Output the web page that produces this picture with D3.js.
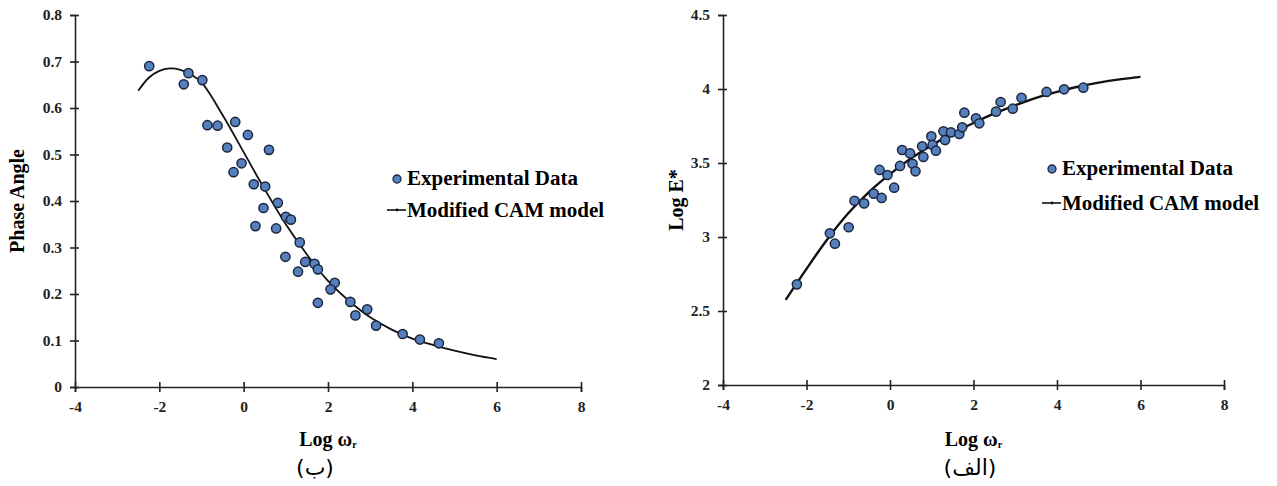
<!DOCTYPE html>
<html>
<head>
<meta charset="utf-8">
<script src="https://cdn.jsdelivr.net/npm/d3@7"></script>
<style>
  body { margin: 0; background: #fff; }
  svg { display: block; }
  .tick text { font-family: "Liberation Serif", serif; font-weight: bold; font-size: 15.5px; fill: #222; }
  .domain, .tick line { stroke: #222; stroke-width: 1.6; }
</style>
</head>
<body>
<div id="chart"></div>
<script>
// --- data ---
const xTicks = [-4, -2, 0, 2, 4, 6, 8];

// left panel (ب): phase angle vs log reduced frequency
const phaseTicks = [0, 0.1, 0.2, 0.3, 0.4, 0.5, 0.6, 0.7, 0.8];
const phaseExpX = [-2.24, -1.42, -1.31, -0.98, -0.86, -0.62, -0.20, -0.39, 0.10, -0.05, -0.24, 0.60, 0.24, 0.51,
  0.81, 0.47, 1.00, 1.12, 0.28, 0.77, 1.33, 0.99, 1.46, 1.29, 1.68, 1.76, 1.76, 2.16, 2.06, 2.53, 2.65, 2.93,
  3.14, 3.77, 4.18, 4.63];
const phaseExpY = [0.690, 0.651, 0.675, 0.660, 0.563, 0.562, 0.570, 0.515, 0.542, 0.481, 0.462, 0.510, 0.436, 0.431,
  0.396, 0.385, 0.366, 0.360, 0.346, 0.341, 0.311, 0.280, 0.269, 0.248, 0.265, 0.253, 0.181, 0.224, 0.210, 0.183,
  0.154, 0.167, 0.132, 0.114, 0.102, 0.094];
const phaseModelX = [-2.5, -2.25, -2, -1.75, -1.5, -1.25, -1, -0.5, 0, 0.5, 1, 1.5, 2, 2.5, 3, 3.5, 4, 4.5, 5, 5.5, 6];
const phaseModelY = [0.637, 0.665, 0.680, 0.685, 0.682, 0.672, 0.655, 0.585, 0.505, 0.425, 0.350, 0.285, 0.228,
  0.185, 0.150, 0.124, 0.104, 0.090, 0.078, 0.068, 0.060];

// right panel (الف): log |E*| vs log reduced frequency
const modTicks = [2, 2.5, 3, 3.5, 4, 4.5];
const modExpX = [-2.23, -1.44, -1.32, -0.99, -0.85, -0.62, -0.39, -0.20, -0.25, -0.06, 0.10, 0.24, 0.29, 0.48,
  0.54, 0.61, 0.77, 0.80, 0.99, 1.02, 1.10, 1.28, 1.32, 1.46, 1.66, 1.73, 1.78, 2.06, 2.14, 2.54, 2.65, 2.94,
  3.15, 3.75, 4.17, 4.63];
const modExpY = [2.680, 3.025, 2.955, 3.066, 3.245, 3.227, 3.293, 3.264, 3.453, 3.419, 3.333, 3.480, 3.588, 3.565,
  3.495, 3.444, 3.613, 3.541, 3.680, 3.622, 3.583, 3.714, 3.655, 3.707, 3.696, 3.741, 3.840, 3.802, 3.768, 3.847,
  3.912, 3.867, 3.941, 3.980, 3.998, 4.009];
const modModelX = [-2.5, -2, -1.5, -1, -0.5, 0, 0.5, 1, 1.5, 2, 2.5, 3, 3.5, 4, 4.5, 5, 5.5, 6];
const modModelY = [2.575, 2.785, 2.985, 3.160, 3.305, 3.425, 3.530, 3.620, 3.700, 3.770, 3.835, 3.890, 3.940,
  3.980, 4.015, 4.043, 4.065, 4.082];

const width = 1277, height = 486;
const serif = '"Liberation Serif", "Times New Roman", serif';

const svg = d3.select("#chart").append("svg")
  .attr("width", width)
  .attr("height", height);

function panel(opt) {
  const x = d3.scaleLinear().domain([-4, 8]).range([opt.left, opt.right]);
  const y = d3.scaleLinear().domain(opt.yDomain).range([opt.bottom, 15]);
  const g = svg.append("g");

  // axes, ticks cross the line like the Excel original
  const ax = g.append("g").attr("transform", `translate(0,${opt.bottom})`)
    .call(d3.axisBottom(x).tickValues(xTicks).tickSizeOuter(0).tickSize(5).tickPadding(9).tickFormat(d => String(d)));
  ax.selectAll(".tick line").attr("y1", -5);
  const ay = g.append("g").attr("transform", `translate(${opt.left},0)`)
    .call(d3.axisLeft(y).tickValues(opt.yTicks).tickSizeOuter(0).tickSize(5).tickPadding(8).tickFormat(d => String(d)));
  ay.selectAll(".tick line").attr("x1", 4);

  // model curve
  const pts = opt.modelX.map((v, i) => [v, opt.modelY[i]]);
  g.append("path")
    .datum(pts)
    .attr("fill", "none")
    .attr("stroke", "#111")
    .attr("stroke-width", opt.lineWidth)
    .attr("d", d3.line().x(d => x(d[0])).y(d => y(d[1])).curve(d3.curveCatmullRom));

  // experimental points
  g.append("g").selectAll("circle")
    .data(opt.expX.map((v, i) => [v, opt.expY[i]]))
    .join("circle")
    .attr("cx", d => x(d[0]))
    .attr("cy", d => y(d[1]))
    .attr("r", 4.6)
    .attr("fill", "#5580bb")
    .attr("stroke", "#1b2640")
    .attr("stroke-width", 1.5);

  // axis titles
  const xt = g.append("text")
    .attr("x", (opt.left + opt.right) / 2)
    .attr("y", 446)
    .attr("text-anchor", "middle")
    .style("font-family", serif).style("font-weight", "bold").style("font-size", "20px")
    .text("Log ω");
  xt.append("tspan").attr("font-size", "10px").attr("dy", 2).text("r");

  g.append("text")
    .attr("transform", `translate(${opt.titleX},${(opt.bottom + 15) / 2}) rotate(-90)`)
    .attr("text-anchor", "middle")
    .style("font-family", serif).style("font-weight", "bold").style("font-size", "20px")
    .text(opt.yTitle);

  // legend
  const lg = g.append("g").attr("transform", `translate(${opt.legX},${opt.legY})`)
    .style("font-family", serif).style("font-weight", "bold").style("font-size", "21px");
  lg.append("circle").attr("cx", -10).attr("cy", -6).attr("r", 4)
    .attr("fill", "#5580bb").attr("stroke", "#1b2640").attr("stroke-width", 1.3);
  lg.append("text").attr("x", 0).attr("y", 0).text("Experimental Data");
  lg.append("line").attr("x1", -20).attr("x2", -1).attr("y1", opt.legGap - 7).attr("y2", opt.legGap - 7)
    .attr("stroke", "#111").attr("stroke-width", 1.6);
  lg.append("circle").attr("cx", -10).attr("cy", opt.legGap - 7).attr("r", 1.4).attr("fill", "#111");
  lg.append("text").attr("x", 0).attr("y", opt.legGap).text("Modified CAM model");

  // caption under the panel
  svg.append("text")
    .attr("x", opt.capX)
    .attr("y", 475)
    .attr("text-anchor", "middle")
    .style("font-family", '"DejaVu Sans", sans-serif')
    .style("font-size", "22px")
    .text(opt.caption);
}

panel({
  left: 75, right: 581, bottom: 387,
  yDomain: [0, 0.8], yTicks: phaseTicks, yTitle: "Phase Angle", titleX: 24,
  expX: phaseExpX, expY: phaseExpY, modelX: phaseModelX, modelY: phaseModelY, lineWidth: 1.8,
  legX: 407, legY: 185, legGap: 32,
  caption: "(ب)", capX: 315
});

panel({
  left: 723, right: 1224, bottom: 385,
  yDomain: [2, 4.5], yTicks: modTicks, yTitle: "Log E*", titleX: 683,
  expX: modExpX, expY: modExpY, modelX: modModelX, modelY: modModelY, lineWidth: 2.4,
  legX: 1062, legY: 175, legGap: 35,
  caption: "(الف)", capX: 970
});
</script>
</body>
</html>
